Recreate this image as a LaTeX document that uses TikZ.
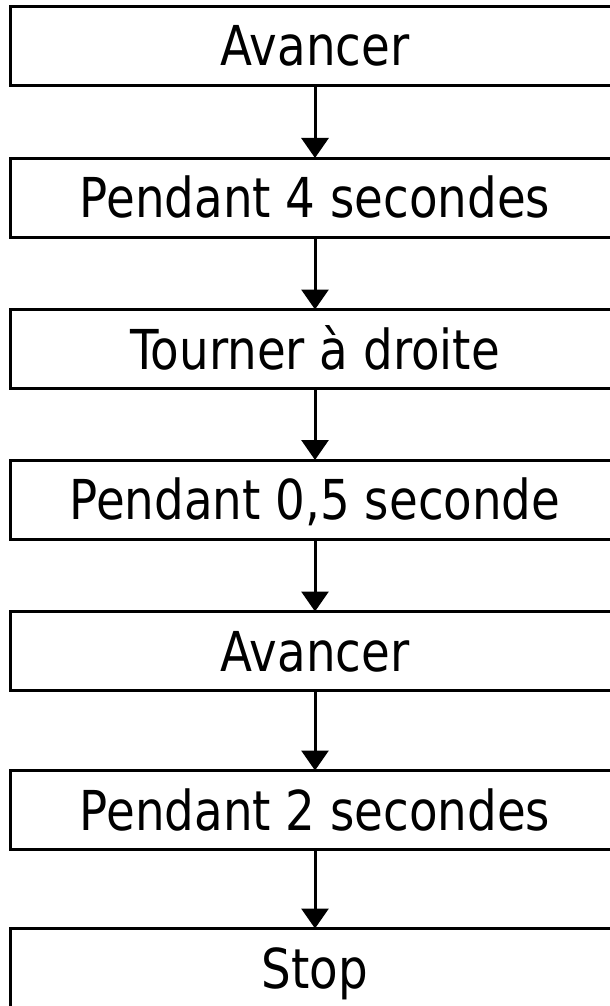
\documentclass[tikz,border=0pt]{standalone}
\usepackage{fontspec}
\setmainfont[FakeStretch=0.85]{DejaVu Sans}
\usetikzlibrary{arrows.meta}
\tikzset{
  stepbox/.style={draw=black, line width=3pt, rectangle, minimum width=610pt,
    minimum height=79pt, inner sep=0pt, outer sep=0pt,
    font=\fontsize{55}{60}\selectfont, text height=40pt, text depth=0pt},
  flow/.style={draw=black, line width=3pt, -{Triangle[length=20pt,width=27pt]}}
}
\begin{document}
\begin{tikzpicture}[x=1pt,y=-1pt]
\useasboundingbox (0,0) rectangle (610,1006);
\fill[white] (0,0) rectangle (610,1006);
\node[stepbox] (b1) at (315,46) {Avancer};
\node[stepbox] (b2) at (315,197.5) {Pendant 4 secondes};
\node[stepbox] (b3) at (315,349) {Tourner à droite};
\node[stepbox] (b4) at (315,499.5) {Pendant 0,5 seconde};
\node[stepbox] (b5) at (315,651) {Avancer};
\node[stepbox] (b6) at (315,810) {Pendant 2 secondes};
\node[stepbox] (b7) at (315,968) {Stop};
\draw[flow] (b1.south) -- (b2.north);
\draw[flow] (b2.south) -- (b3.north);
\draw[flow] (b3.south) -- (b4.north);
\draw[flow] (b4.south) -- (b5.north);
\draw[flow] (b5.south) -- (b6.north);
\draw[flow] (b6.south) -- (b7.north);
\end{tikzpicture}
\end{document}
